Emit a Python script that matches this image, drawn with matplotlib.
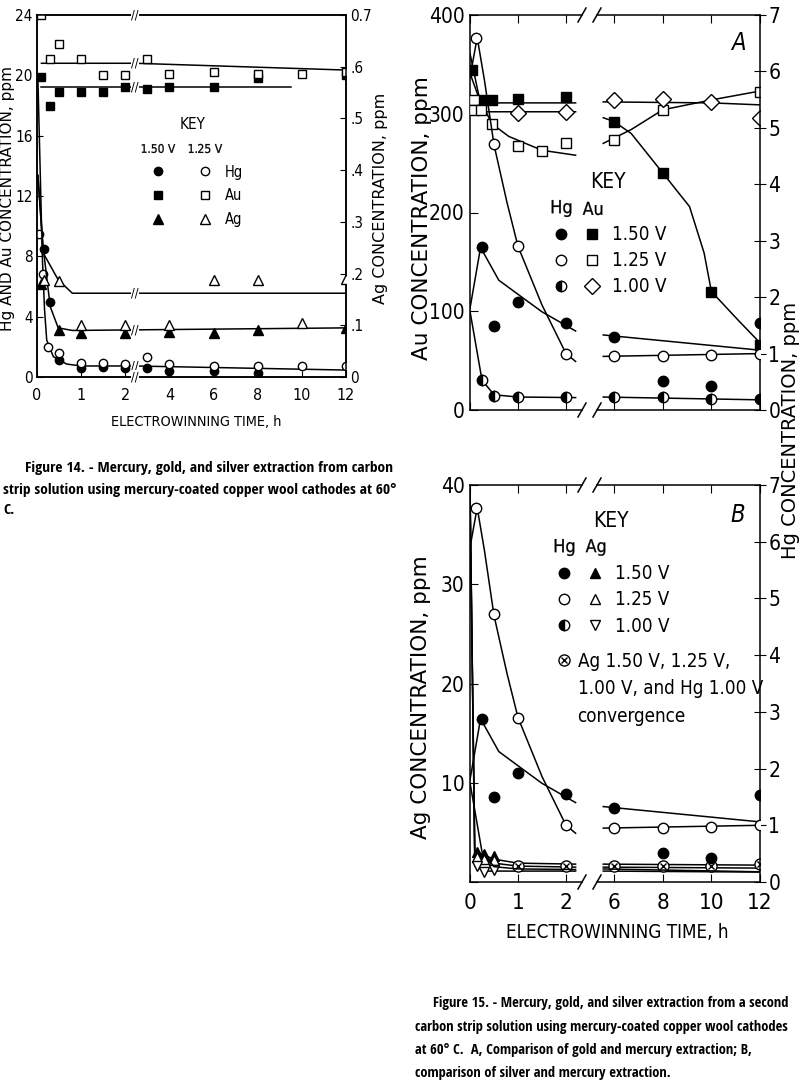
import os

import numpy as np
import matplotlib
matplotlib.use('Agg')
import matplotlib.pyplot as plt
from matplotlib import font_manager
from matplotlib.font_manager import FontProperties
from matplotlib.lines import Line2D
from matplotlib.legend_handler import HandlerTuple


def condensed_ok():
    try:
        f = font_manager.findfont(FontProperties(family='DejaVu Sans', stretch='condensed'),
                                  fallback_to_default=False)
    except ValueError:
        return False
    return 'condensed' in f.lower()


def font_file(names):
    have = {os.path.basename(f.fname): f.fname for f in font_manager.fontManager.ttflist}
    for n in names:
        if n in have:
            return have[n]
    return None


COND = condensed_ok()
WIDE = 'DejaVu Sans'
if COND:
    plt.rcParams['font.family'] = ['DejaVu Sans']
    plt.rcParams['font.stretch'] = 'condensed'
    plt.rcParams['mathtext.fontset'] = 'custom'
    plt.rcParams['mathtext.rm'] = 'DejaVu Sans:stretch=condensed'
else:
    plt.rcParams['font.family'] = ['Liberation Sans', 'DejaVu Sans']
    plt.rcParams['mathtext.fontset'] = 'custom'
    plt.rcParams['mathtext.rm'] = 'Liberation Sans'
plt.rcParams['axes.linewidth'] = 1.1

# narrow faces for the printed captions and the axis titles
_bold = font_file(['NotoSans-ExtraCondensedBold.ttf', 'NotoSans-CondensedBold.ttf',
                   'LiberationSansNarrow-Bold.ttf', 'OpenSans-CondBold.ttf',
                   'DejaVuSansCondensed-Bold.ttf'])
_reg = font_file(['NotoSans-ExtraCondensed.ttf', 'NotoSans-Condensed.ttf',
                  'LiberationSansNarrow-Regular.ttf', 'DejaVuSansCondensed.ttf'])


def narrow(bold=False):
    f = _bold if bold else _reg
    if f:
        return FontProperties(fname=f)
    return FontProperties(family='DejaVu Sans', stretch='condensed',
                          weight='bold' if bold else 'normal')


nan = np.nan

# ---- Figure 14 (time h; Hg and Au ppm on left axis, Ag ppm on right axis)
f14_hg150_t = [0.15, 0.3, 0.5, 1, 1.5, 2, 3, 4, 6, 8]
f14_hg150 = [8.5, 5.0, 1.13, 0.6, 0.66, 0.6, 0.6, 0.4, 0.4, 0.25]
f14_hg125_t = [0.05, 0.13, 0.25, 0.5, 1, 1.5, 2, 3, 4, 6, 8, 10, 12]
f14_hg125 = [9.5, 6.8, 2.0, 1.6, 0.93, 0.95, 0.85, 1.3, 0.85, 0.73, 0.7, 0.7, 0.73]
f14_au150_t = [0.1, 0.3, 0.5, 1, 1.5, 2, 3, 4, 6, 8, 12]
f14_au150 = [19.9, 18.0, 18.9, 18.9, 18.9, 19.2, 19.1, 19.2, 19.2, 19.8, 20.0]
f14_au125_t = [0.1, 0.3, 0.5, 1, 1.5, 2, 3, 4, 6, 8, 10, 12]
f14_au125 = [24.0, 21.1, 22.1, 21.1, 20.0, 20.0, 21.1, 20.1, 20.2, 20.1, 20.1, 20.2]
f14_ag150_t = [0.1, 0.5, 1, 2, 4, 6, 8, 12]
f14_ag150 = [0.18, 0.091, 0.085, 0.085, 0.087, 0.086, 0.09, 0.095]
f14_ag125_t = [0.15, 0.5, 1, 2, 4, 6, 8, 10, 12]
f14_ag125 = [0.188, 0.186, 0.10, 0.10, 0.10, 0.188, 0.188, 0.104, 0.19]

# hand drawn curves of fig 14
f14_hg_fit_t = [0.02, 0.12, 0.17, 0.22, 0.37, 0.67, 1, 2.45, 12]
f14_hg_fit = [19.8, 8.0, 4.5, 2.45, 1.35, 0.86, 0.73, 0.73, 0.46]
f14_au125_fit_t = [0.1, 2.45, 12]
f14_au125_fit = [20.8, 20.8, 20.35]
f14_au150_fit_t = [0.1, 9.5]
f14_au150_fit = [19.2, 19.2]
f14_ag150_fit_t = [0.02, 0.14, 0.3, 0.48, 0.8, 12]
f14_ag150_fit = [0.39, 0.25, 0.136, 0.095, 0.09, 0.095]
f14_ag125_fit_t = [0.02, 0.14, 0.48, 0.8, 12]
f14_ag125_fit = [0.39, 0.24, 0.188, 0.162, 0.162]

# ---- Figure 15 (Hg ppm right axis; Au ppm in A, Ag ppm in B)
f15_hg_t = [0.25, 0.5, 1, 2, 6, 8, 10, 12]
f15_hg150 = [2.88, 1.49, 1.92, 1.55, 1.30, 0.51, 0.43, 1.54]
f15_hg100 = [0.53, 0.25, 0.23, 0.23, 0.23, 0.23, 0.20, 0.20]
f15_hg125_t = [0.13, 0.5, 1, 2, 6, 8, 10, 12]
f15_hg125 = [6.6, 4.72, 2.9, 1.0, 0.95, 0.96, 0.97, 1.0]
f15_au150_t = [0.05, 0.22, 0.45, 1, 2, 6, 8, 10, 12]
f15_au150 = [344, 314, 314, 315, 317, 292, 240, 120, 66]
f15_au125_t = [0.08, 0.08, 0.22, 0.45, 1, 1.5, 2, 6, 8, 12]
f15_au125 = [314, 304, 304, 290, 267, 262, 270, 273, 304, 322]
f15_au100_t = [1, 2, 6, 8, 10, 12]
f15_au100 = [301, 302, 314, 315, 312, 296]
f15_ag_t = [0.15, 0.3, 0.5]
f15_ag150 = [3.0, 2.8, 2.6]
f15_ag125 = [2.5, 2.3, 2.2]
f15_ag100 = [1.6, 1.0, 1.2]
f15_conv_t = [1, 2, 6, 8, 10, 12]
f15_conv = [1.6, 1.6, 1.6, 1.6, 1.6, 1.8]

# hand drawn curves of fig 15 (nan = axis break)
f15_hg150_fit_t = [0, 0.22, 0.6, 1.0, 1.5, 2.2, nan, 5.55, 12]
f15_hg150_fit = [1.8, 2.88, 2.3, 2.05, 1.74, 1.4, nan, 1.33, 1.06]
f15_hg125_fit_t = [0, 0.15, 0.3, 0.5, 0.77, 1.0, 1.5, 2.0, 2.2, nan, 5.55, 12]
f15_hg125_fit = [5.9, 6.6, 5.85, 4.7, 3.68, 2.9, 1.86, 1.0, 0.86, nan, 0.95, 1.0]
f15_hg100_fit_t = [0, 0.25, 0.5, 1, 2.2, nan, 5.55, 12]
f15_hg100_fit = [1.75, 0.53, 0.27, 0.23, 0.22, nan, 0.23, 0.18]
f15_au150_fit_t = [0.05, 2.2, nan, 5.55, 6, 6.7, 8, 9.1, 9.7, 10, 11.1, 12]
f15_au150_fit = [311, 311, nan, 296, 292, 280, 240, 206, 159, 120, 91, 68]
f15_au125_fit_t = [0, 0.19, 0.45, 0.81, 1.5, 2.2, nan, 5.55, 6.7, 8, 10, 12]
f15_au125_fit = [361, 317, 290, 277, 263, 258, nan, 270, 284, 304, 314, 323]
f15_au100_fit_t = [0, 0.29, 2.2, nan, 5.55, 10, 12]
f15_au100_fit = [341, 302, 302, nan, 312, 311, 309]
f15_ag150_fit_t = [0, 0.1, 0.3, 0.5, 1, 2.2, nan, 5.55, 12]
f15_ag150_fit = [39.5, 3.1, 2.7, 2.3, 1.9, 1.8, nan, 1.8, 1.7]
f15_ag125_fit_t = [0, 0.1, 0.5, 1, 2.2, nan, 5.55, 12]
f15_ag125_fit = [39.5, 2.5, 1.9, 1.6, 1.5, nan, 1.5, 1.4]
f15_ag100_fit_t = [0, 0.1, 0.3, 0.5, 1, 2.2, nan, 5.55, 12]
f15_ag100_fit = [39.5, 1.6, 1.1, 1.1, 1.1, 1.1, nan, 1.1, 1.0]

MK = {
    'hg150': dict(marker='o', mfc='k'),
    'hg125': dict(marker='o', mfc='white'),
    'hg100': dict(marker='o', mfc='k', fillstyle='left', markerfacecoloralt='white'),
    'au150': dict(marker='s', mfc='k'),
    'au125': dict(marker='s', mfc='white'),
    'au100': dict(marker='D', mfc='white'),
    'ag150': dict(marker='^', mfc='k'),
    'ag125': dict(marker='^', mfc='white'),
    'ag100': dict(marker='v', mfc='white'),
}
CURVE = dict(color='k', lw=1.1, zorder=2)

W, H = 800, 1090
fig = plt.figure(figsize=(W / 100, H / 100), dpi=100)
renderer = fig.canvas.get_renderer()


def px(l, t, r, b):
    return [l / W, 1 - b / H, (r - l) / W, (b - t) / H]


def fx(x):
    return x / W


def fy(y):
    return 1 - y / H


def fit(txt, span, cap=None, grow=1.0):
    # scale a text so it covers the span (pixels) it has in the scan
    bb = txt.get_window_extent(renderer)
    size = bb.height if txt.get_rotation() == 90 else bb.width
    new = txt.get_fontsize() * span / size * grow
    if cap:
        new = min(new, cap)
    txt.set_fontsize(new)
    return new


def pts(ax, t, v, key, ms):
    return ax.plot(t, v, ls='none', ms=ms, mec='k', mew=1.0, zorder=3, **MK[key])[0]


def header(text, ms):
    return Line2D([], [], ls='none', marker=r'$\mathrm{%s}$' % text, ms=ms,
                  mfc='k', mec='k', mew=0.2)


# ================= Figure 14 =================
def fwd(t):
    t = np.asarray(t, dtype=float)
    return np.where(t <= 2, t, 2 + (t - 2) / 2)


def inv(u):
    u = np.asarray(u, dtype=float)
    return np.where(u <= 2, u, 2 + (u - 2) * 2)


ax = fig.add_axes(px(37, 15, 346, 377))
ax.set_xscale('function', functions=(fwd, inv))
ax.set_xlim(0, 12)
ax.set_ylim(0, 24)
ax.set_xticks([0, 1, 2, 4, 6, 8, 10, 12])
ax.set_yticks(range(0, 25, 4))
ax.tick_params(direction='in', length=4, labelsize=11, pad=3)
ax.tick_params(axis='x', pad=8, labelsize=11.5)
tw = ax.twinx()
tw.set_ylim(0, 0.7)
tw.set_yticks(np.arange(0, 0.71, 0.1))
tw.set_yticklabels(['0', '.1', '.2', '.3', '.4', '.5', '.6', '0.7'])
tw.tick_params(direction='in', length=4, labelsize=11, pad=3)

ax.plot(f14_hg_fit_t, f14_hg_fit, **CURVE)
ax.plot(f14_au125_fit_t, f14_au125_fit, **CURVE)
ax.plot(f14_au150_fit_t, f14_au150_fit, **CURVE)
tw.plot(f14_ag150_fit_t, f14_ag150_fit, **CURVE)
tw.plot(f14_ag125_fit_t, f14_ag125_fit, **CURVE)

h14_hg150 = pts(ax, f14_hg150_t, f14_hg150, 'hg150', 6)
h14_hg125 = pts(ax, f14_hg125_t, f14_hg125, 'hg125', 6)
h14_au150 = pts(ax, f14_au150_t, f14_au150, 'au150', 6)
h14_au125 = pts(ax, f14_au125_t, f14_au125, 'au125', 6)
h14_ag150 = pts(tw, f14_ag150_t, f14_ag150, 'ag150', 6.5)
h14_ag125 = pts(tw, f14_ag125_t, f14_ag125, 'ag125', 6.5)

# axis break marks at 2.45 h
tb = 2.45
brk = dict(ha='center', va='center', fontsize=9, zorder=5,
           bbox=dict(fc='white', ec='none', pad=0.2))
for a, t, v in [(ax, f14_hg_fit_t, f14_hg_fit), (ax, f14_au125_fit_t, f14_au125_fit),
                (ax, f14_au150_fit_t, f14_au150_fit), (tw, f14_ag150_fit_t, f14_ag150_fit),
                (tw, f14_ag125_fit_t, f14_ag125_fit)]:
    a.text(tb, np.interp(tb, t, v), '//', **brk)
for yy in (0, 1):
    tw.text(tb, yy, '//', transform=tw.get_xaxis_transform(), **brk)

lab = dict(rotation=90, ha='center', va='center', fontsize=11, family=WIDE, stretch='normal')
fit(fig.text(fx(8), fy(198), 'Hg AND Au CONCENTRATION, ppm', **lab), 343, cap=11)
fit(fig.text(fx(380), fy(198), 'Ag CONCENTRATION, ppm', **lab), 277, cap=11.5)
fit(fig.text(fx(196), fy(422), 'ELECTROWINNING TIME, h', ha='center', va='center',
             fontproperties=narrow(), fontsize=12), 162, grow=1.05)

fig.legend(handles=[(header('1.50\\ V', 24), header('1.25\\ V', 24)),
                    (h14_hg150, h14_hg125), (h14_au150, h14_au125), (h14_ag150, h14_ag125)],
           labels=[' ', 'Hg', 'Au', 'Ag'],
           handler_map={tuple: HandlerTuple(ndivide=None, pad=1.16)},
           loc='upper left', bbox_to_anchor=(fx(143), fy(117)), frameon=False,
           title='KEY', fontsize=10.5, title_fontsize=11, handlelength=5.27,
           handletextpad=0.34, labelspacing=0.6, borderpad=0, borderaxespad=0, numpoints=1)


# ================= Figure 15 =================
def split_panel(top, bottom, ymax, yticks, ylabels, xlabels):
    axl = fig.add_axes(px(470, top, 582, bottom))
    axr = fig.add_axes(px(597, top, 760, bottom))
    axl.set_xlim(0, 112 / 48)
    axr.set_xlim(12 - 163 / 24.3, 12)
    twl, twr = axl.twinx(), axr.twinx()
    for a in (axl, axr):
        a.set_ylim(0, ymax)
    for a in (twl, twr):
        a.set_ylim(0, 7)
        for s in a.spines.values():
            s.set_visible(False)
    twr.spines['right'].set_visible(True)
    axl.spines['right'].set_visible(False)
    axr.spines['left'].set_visible(False)
    axr.spines['right'].set_visible(False)
    axl.set_xticks([0, 1, 2])
    axr.set_xticks([6, 8, 10, 12])
    for a in (axl, axr):
        a.tick_params(axis='x', direction='in', top=True, length=6, labelsize=16,
                      labelbottom=xlabels, pad=8)
    axl.set_yticks(yticks)
    axl.set_yticklabels(ylabels)
    axl.tick_params(axis='y', direction='in', length=6, labelsize=15, pad=4)
    axr.tick_params(axis='y', left=False, labelleft=False)
    twl.tick_params(axis='y', right=False, labelright=False)
    twr.set_yticks(range(8))
    twr.tick_params(axis='y', direction='inout', length=8, labelsize=15, pad=2)
    hgt = bottom - top
    for a, x0, wpx in ((axl, 1, 112), (axr, 0, 163)):
        dx, dy = 4 / wpx, 7 / hgt
        for y0 in (0, 1):
            a.plot([x0 - dx, x0 + dx], [y0 - dy, y0 + dy], transform=a.transAxes,
                   color='k', lw=1.1, clip_on=False)
    return axl, axr, twl, twr


def hg_layer(h, with_100):
    h.plot(f15_hg150_fit_t, f15_hg150_fit, **CURVE)
    h.plot(f15_hg125_fit_t, f15_hg125_fit, **CURVE)
    h.plot(f15_hg100_fit_t, f15_hg100_fit, **CURVE)
    out = [pts(h, f15_hg_t, f15_hg150, 'hg150', 7.5),
           pts(h, f15_hg125_t, f15_hg125, 'hg125', 7.5)]
    if with_100:
        out.append(pts(h, f15_hg_t, f15_hg100, 'hg100', 7.5))
    return out


KEY15 = dict(loc='upper left', frameon=False, title='KEY', fontsize=13.5, title_fontsize=15,
             handlelength=2.93, handletextpad=0.43, labelspacing=0.38, borderpad=0,
             borderaxespad=0, numpoints=1,
             handler_map={tuple: HandlerTuple(ndivide=None, pad=0.37)})

# ---- A: gold and mercury
aL, aR, hL, hR = split_panel(15, 410, 400, range(0, 401, 100),
                             ['0', '100', '200', '300', '400'], False)
for a in (aL, aR):
    a.plot(f15_au150_fit_t, f15_au150_fit, **CURVE)
    a.plot(f15_au125_fit_t, f15_au125_fit, **CURVE)
    a.plot(f15_au100_fit_t, f15_au100_fit, **CURVE)
    hA_au150 = pts(a, f15_au150_t, f15_au150, 'au150', 7.5)
    hA_au125 = pts(a, f15_au125_t, f15_au125, 'au125', 7.5)
    hA_au100 = pts(a, f15_au100_t, f15_au100, 'au100', 8)
for h in (hL, hR):
    hA_hg = hg_layer(h, True)
aR.text(0.865, 0.929, 'A', transform=aR.transAxes, ha='center', va='center',
        fontsize=17, style='italic')

fig.legend(handles=[(header('Hg', 14), header('Au', 14)),
                    (hA_hg[0], hA_au150), (hA_hg[1], hA_au125), (hA_hg[2], hA_au100)],
           labels=[' ', '1.50 V', '1.25 V', '1.00 V'],
           bbox_to_anchor=(fx(549), fy(172)), **KEY15)

# ---- B: silver and mercury
bL, bR, gL, gR = split_panel(485, 882, 40, range(0, 41, 10),
                             ['', '10', '20', '30', '40'], True)
for a in (bL, bR):
    a.plot(f15_ag150_fit_t, f15_ag150_fit, **CURVE)
    a.plot(f15_ag125_fit_t, f15_ag125_fit, **CURVE)
    a.plot(f15_ag100_fit_t, f15_ag100_fit, **CURVE)
    hB_ag150 = pts(a, f15_ag_t, f15_ag150, 'ag150', 6.5)
    hB_ag125 = pts(a, f15_ag_t, f15_ag125, 'ag125', 6.5)
    hB_ag100 = pts(a, f15_ag_t, f15_ag100, 'ag100', 6.5)
    hB_conv_o = a.plot(f15_conv_t, f15_conv, ls='none', marker='o', ms=8, mfc='white',
                       mec='k', mew=1.0, zorder=3)[0]
    hB_conv_x = a.plot(f15_conv_t, f15_conv, ls='none', marker='x', ms=5, mec='k',
                       mew=1.0, zorder=4)[0]
for h in (gL, gR):
    hB_hg = hg_layer(h, False)
bR.text(0.865, 0.924, 'B', transform=bR.transAxes, ha='center', va='center',
        fontsize=17, style='italic')

hB_hg100 = Line2D([], [], ls='none', ms=7.5, mec='k', mew=1.0, **MK['hg100'])
fig.legend(handles=[(header('Hg', 14), header('Ag', 14)),
                    (hB_hg[0], hB_ag150), (hB_hg[1], hB_ag125), (hB_hg100, hB_ag100)],
           labels=[' ', '1.50 V', '1.25 V', '1.00 V'],
           bbox_to_anchor=(fx(552), fy(511)), **KEY15)
blank = Line2D([], [], ls='none')
fig.legend(handles=[(hB_conv_o, hB_conv_x), blank, blank],
           labels=['Ag 1.50 V, 1.25 V,', '1.00 V, and Hg 1.00 V', 'convergence'],
           handler_map={tuple: HandlerTuple(ndivide=1, pad=0)},
           loc='upper left', bbox_to_anchor=(fx(556), fy(652)), frameon=False,
           fontsize=13.5, handlelength=0.85, handletextpad=0.3, labelspacing=0.45,
           borderpad=0, borderaxespad=0, numpoints=1)

lab15 = dict(rotation=90, ha='center', va='center', fontsize=16, family=WIDE, stretch='normal')
fit(fig.text(fx(422), fy(218), 'Au CONCENTRATION, ppm', **lab15), 343, cap=15.5)
fit(fig.text(fx(421), fy(697), 'Ag CONCENTRATION, ppm', **lab15), 347, cap=15.5)
fit(fig.text(fx(790), fy(430), 'Hg CONCENTRATION, ppm', **lab15), 354, cap=14)
fit(fig.text(fx(617), fy(933), 'ELECTROWINNING TIME, h', ha='center', va='center',
             fontproperties=narrow(), fontsize=16), 213, grow=1.05)

# ---- captions (size taken from the widest unjustified line)
cap = dict(ha='left', va='center', fontproperties=narrow(bold=True))
c14 = [fig.text(fx(25), fy(468), 'Figure 14. - Mercury, gold, and silver extraction from carbon', **cap),
       fig.text(fx(3), fy(490), 'strip solution using mercury-coated copper wool cathodes at 60\u00b0', **cap),
       fig.text(fx(3), fy(510), 'C.', **cap)]
s14 = fit(c14[1], 393)
for t in c14:
    t.set_fontsize(s14)
c15 = [fig.text(fx(433), fy(1003), 'Figure 15. - Mercury, gold, and silver extraction from a second', **cap),
       fig.text(fx(415), fy(1027), 'carbon strip solution using mercury-coated copper wool cathodes', **cap),
       fig.text(fx(415), fy(1050), 'at 60\u00b0 C.  A, Comparison of gold and mercury extraction; B,', **cap),
       fig.text(fx(415), fy(1073), 'comparison of silver and mercury extraction.', **cap)]
s15 = fit(c15[1], 373)
for t in c15:
    t.set_fontsize(s15)

fig.savefig('out.png', dpi=100)
